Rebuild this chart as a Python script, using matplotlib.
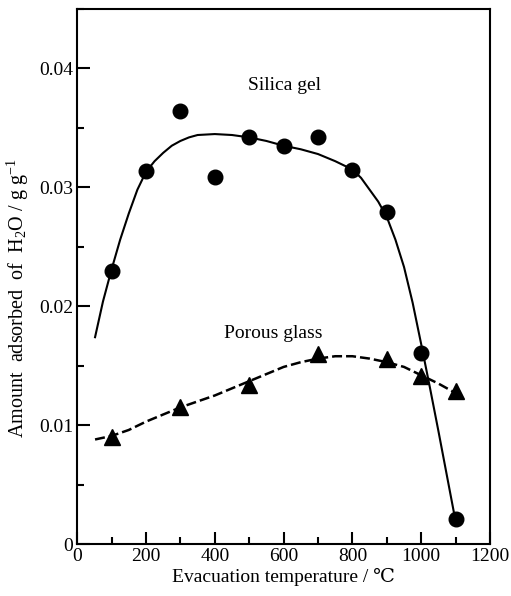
import matplotlib
matplotlib.use("Agg")
import matplotlib.pyplot as plt
from matplotlib.ticker import MultipleLocator

# 字体：Times 风格，带 ℃ 的后备字体
plt.rcParams['font.family'] = ['Liberation Serif', 'DejaVu Serif']
plt.rcParams['mathtext.fontset'] = 'custom'
plt.rcParams['mathtext.rm'] = 'Liberation Serif'
plt.rcParams['mathtext.it'] = 'Liberation Serif:italic'

silica_x = [100, 200, 300, 400, 500, 600, 700, 800, 900, 1000, 1100]
silica_y = [0.0230, 0.0314, 0.0364, 0.0309, 0.0342, 0.0335, 0.0342, 0.0315, 0.0279, 0.0161, 0.0021]

glass_x = [100, 300, 500, 700, 900, 1000, 1100]
glass_y = [0.0090, 0.0115, 0.0134, 0.0160, 0.0156, 0.0141, 0.0129]

# 拟合曲线（沿图中曲线读取）
silica_fit_x = [52, 75, 100, 125, 150, 175, 200, 225, 250, 275, 300, 325, 350, 400, 450, 500,
                550, 600, 650, 700, 750, 800, 825, 850, 875, 900, 925, 950, 975, 1000,
                1025, 1050, 1075, 1100]
silica_fit_y = [0.0174, 0.0204, 0.0231, 0.0256, 0.0278, 0.0298, 0.0313, 0.0322, 0.0329,
                0.0335, 0.0339, 0.0342, 0.0344, 0.03448, 0.0344, 0.0342, 0.0339, 0.0335,
                0.0332, 0.0328, 0.0322, 0.0315, 0.0308, 0.0298, 0.0288, 0.0275, 0.0256,
                0.0233, 0.0203, 0.0168, 0.0132, 0.0095, 0.0057, 0.0019]

glass_fit_x = [52, 100, 150, 200, 300, 400, 500, 600, 650, 700, 750, 800, 850, 900, 950,
               1000, 1050, 1100]
glass_fit_y = [0.0088, 0.0091, 0.0096, 0.0103, 0.0115, 0.0125, 0.0137, 0.0149, 0.0153,
               0.0156, 0.0158, 0.0158, 0.0156, 0.0153, 0.0149, 0.0142, 0.0135, 0.0127]

fig = plt.figure(figsize=(5.11, 5.96), dpi=100)
ax = fig.add_axes([0.151, 0.087, 0.808, 0.898])

ax.plot(silica_fit_x, silica_fit_y, color='black', lw=1.5, zorder=2)
ax.plot(glass_fit_x, glass_fit_y, color='black', lw=1.8, linestyle=(0, (4, 1.6)), zorder=2)
ax.plot(silica_x, silica_y, 'o', color='black', ms=10.5, zorder=3)
ax.plot(glass_x, glass_y, '^', color='black', ms=11, zorder=3)

ax.text(603, 0.0386, 'Silica gel', fontsize=14, ha='center', va='center')
ax.text(569, 0.0177, 'Porous glass', fontsize=14, ha='center', va='center')

ax.set_xlim(0, 1200)
ax.set_ylim(0, 0.045)
ax.xaxis.set_major_locator(MultipleLocator(200))
ax.xaxis.set_minor_locator(MultipleLocator(100))
ax.yaxis.set_minor_locator(MultipleLocator(0.005))
ax.set_yticks([0, 0.01, 0.02, 0.03, 0.04])
ax.set_yticklabels(['0', '0.01', '0.02', '0.03', '0.04'])

ax.tick_params(which='both', direction='in', top=False, right=False, width=1.5, labelsize=14, pad=3)
ax.tick_params(which='major', length=9)
ax.tick_params(which='minor', length=5)
for s in ax.spines.values():
    s.set_linewidth(1.5)

ax.set_xlabel('Evacuation temperature / ℃', fontsize=14, labelpad=2)
ax.set_ylabel(r'Amount  adsorbed  of  H$_2$O / g g$^{-1}$', fontsize=14.5)
ax.yaxis.set_label_coords(-0.112, 0.46)

fig.savefig('out.png', dpi=100)
